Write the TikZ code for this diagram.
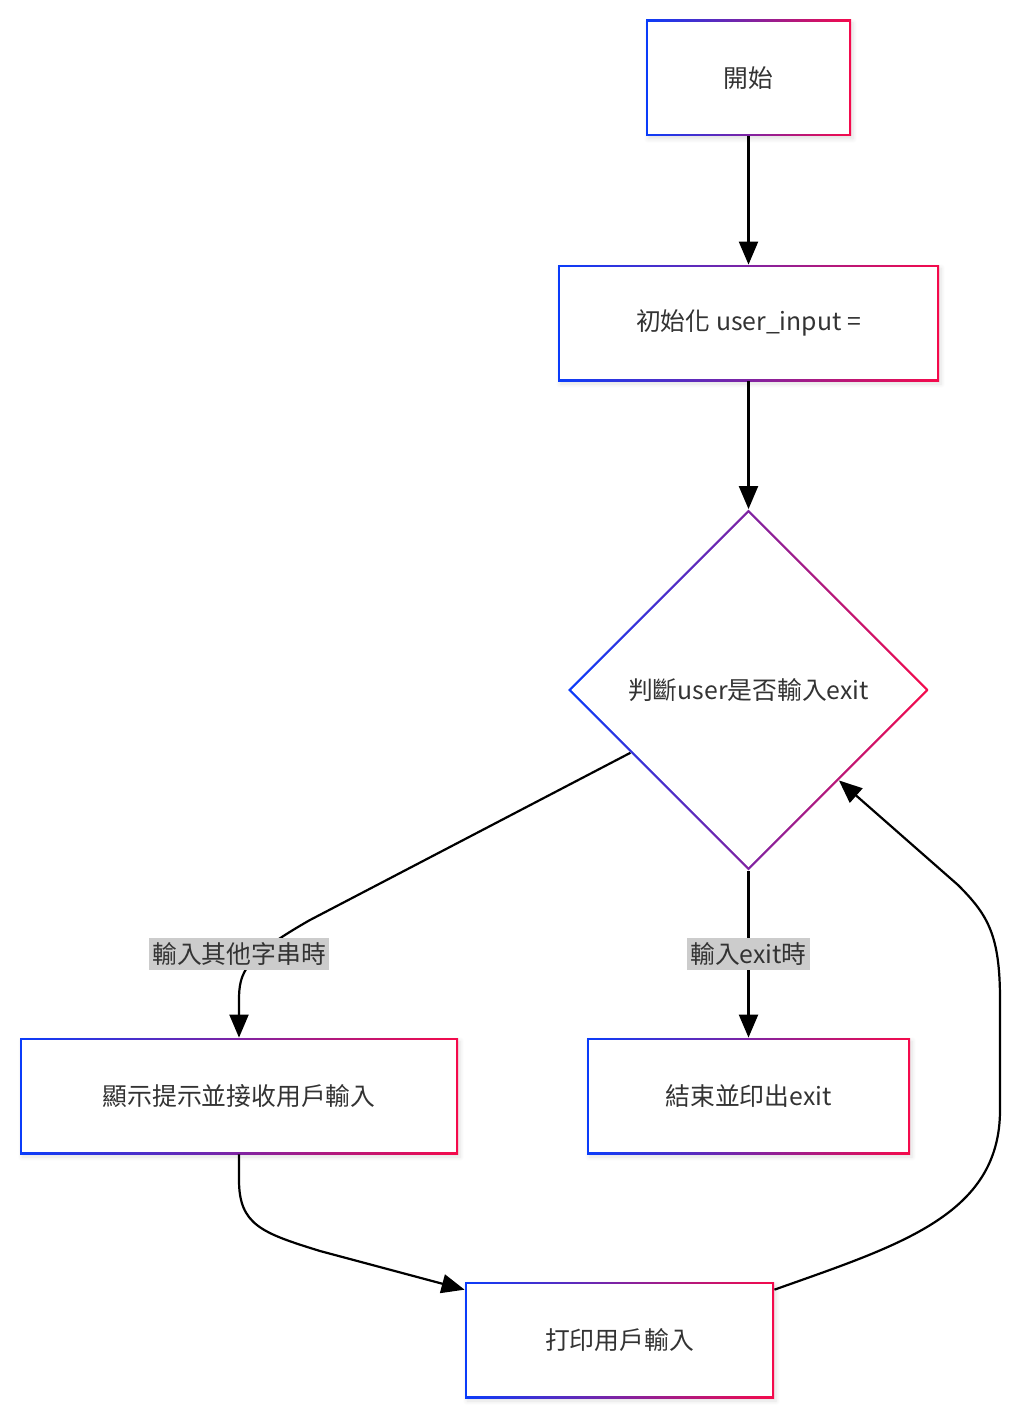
\documentclass[tikz,border=0pt]{standalone}
\usepackage{fontspec}
\setmainfont{Noto Sans CJK TC}
\usetikzlibrary{shapes.geometric,arrows.meta,shadows.blur}
\definecolor{mblue}{RGB}{10,60,250}
\definecolor{mred}{RGB}{245,10,75}
\definecolor{txtgray}{RGB}{51,51,51}
\definecolor{lblgray}{RGB}{204,204,204}
\tikzset{
  gradbox/.style={rectangle,fill=white,inner sep=0pt,text=txtgray,
    font=\fontsize{12.4}{14}\selectfont,minimum height=58pt,
    blur shadow={shadow xshift=1pt,shadow yshift=-1.5pt,shadow blur steps=6,shadow opacity=12},
    path picture={
      \shade[left color=mblue,right color=mred] (path picture bounding box.south west) rectangle (path picture bounding box.north east);
      \fill[white] ([shift={(1.1pt,1.1pt)}]path picture bounding box.south west) rectangle ([shift={(-1.1pt,-1.1pt)}]path picture bounding box.north east);
    }},
  graddiamond/.style={diamond,aspect=1,fill=white,inner sep=0pt,text=txtgray,
    font=\fontsize{12.4}{14}\selectfont,minimum width=180.5pt,minimum height=180.5pt,
    path picture={
      \shade[left color=mblue,right color=mred] (path picture bounding box.south west) rectangle (path picture bounding box.north east);
      \fill[white] ([yshift=-1.6pt]path picture bounding box.north) -- ([xshift=-1.6pt]path picture bounding box.east)
        -- ([yshift=1.6pt]path picture bounding box.south) -- ([xshift=1.6pt]path picture bounding box.west) -- cycle;
    }},
  edgelabel/.style={fill=lblgray,text=txtgray,inner xsep=1.5pt,inner ysep=2.5pt,font=\fontsize{12.4}{14}\selectfont},
  flow/.style={draw=black,line width=1.1pt,-{Triangle[length=11.5pt,width=9.5pt]}}
}
\begin{document}
\begin{tikzpicture}[x=0.5pt,y=-0.5pt]
  \useasboundingbox (0,0) rectangle (1024,1423);

  % steps
  \node[gradbox,minimum width=102.5pt] (start) at (748.5,78) {開始};
  \node[gradbox,minimum width=190.5pt] (init) at (748.5,323) {初始化 user\_input =};
  \node[graddiamond] (check) at (748.5,690) {判斷user是否輸入exit};
  \node[gradbox,minimum width=219pt] (prompt) at (239,1096) {顯示提示並接收用戶輸入};
  \node[gradbox,minimum width=161.5pt] (finish) at (748.5,1096) {結束並印出exit};
  \node[gradbox,minimum width=154.5pt] (echo) at (619.5,1340) {打印用戶輸入};

  % connectors
  \draw[flow] (start) -- (init);
  \draw[flow] (init) -- (check);
  \draw[flow] (check.208) -- (310,920) .. controls (245,957) and (239,972) .. (239,1000) -- (prompt.north);
  \draw[flow] (check.south) -- (finish.north);
  \draw[flow] (prompt.south) -- (239,1180) .. controls (239,1225) and (262,1233) .. (320,1251) -- (echo.162);
  \draw[flow] (echo.18) .. controls (900,1245) and (1000,1215) .. (1000,1110) -- (1000,1000)
    .. controls (1000,935) and (988,915) .. (958,885) -- (check.south east);

  % labels
  \node[edgelabel] (lother) at (239,954) {輸入其他字串時};
  \node[edgelabel] (lexit) at (748.5,954) {輸入exit時};
\end{tikzpicture}
\end{document}
